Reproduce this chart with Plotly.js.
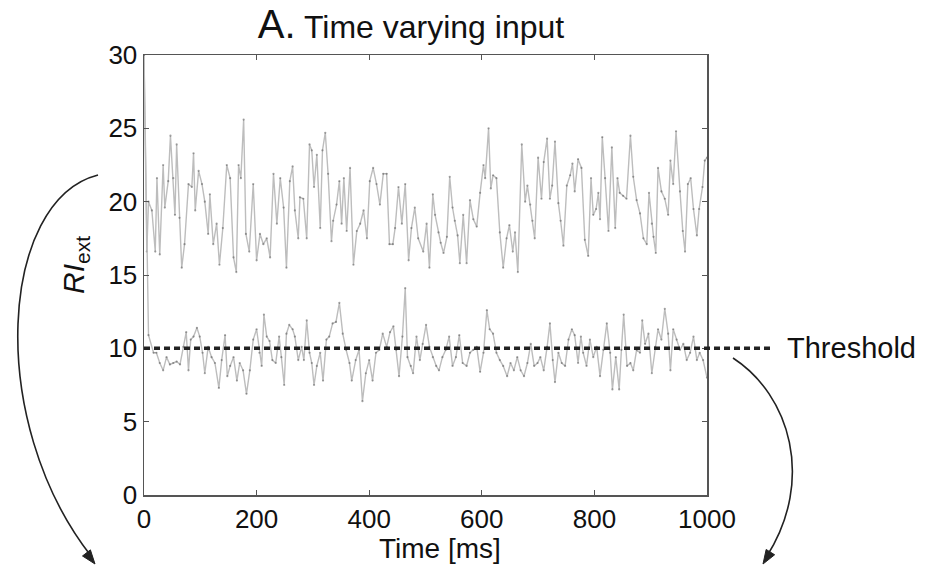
<!DOCTYPE html>
<html>
<head>
<meta charset="utf-8">
<script src="https://cdn.plot.ly/plotly-3.0.1.min.js"></script>
<style>html,body{margin:0;padding:0;background:#fff;}#chart{width:925px;height:568px;}</style>
</head>
<body>
<div id="chart"></div>
<script>
// ---- data ----
const upperT = [0,5,8,14,20,23,28,34,37,43,
47,52,55,58,63,67,72,79,85,88,
91,97,103,108,114,117,123,129,134,140,
147,153,159,164,168,172,177,181,187,194,
200,206,212,218,224,230,236,242,248,253,
259,264,268,274,277,283,289,294,298,302,
307,313,317,322,327,333,336,342,347,351,
355,360,366,372,378,384,390,396,401,407,
413,419,425,431,436,442,446,452,458,464,
470,475,481,487,496,502,507,513,517,523,
527,532,538,543,548,552,557,561,567,573,
579,585,591,597,603,606,612,616,620,626,
632,638,644,649,655,659,664,671,677,681,
686,690,694,700,706,710,716,721,725,730,
736,740,745,751,757,761,765,771,777,783,
789,794,798,803,807,810,814,819,825,831,
837,841,845,851,857,864,869,875,881,887,
893,897,902,905,909,913,919,925,931,935,
940,945,952,957,961,966,971,976,982,986,
992,996,1000];
const upperV = [30,16.6,20.0,19.4,16.6,21.6,16.4,22.5,19.6,21.4,
24.5,21.6,19.1,23.9,18.9,15.5,17.1,21.2,21.0,23.3,
19.4,22.1,21.2,20.0,17.8,20.5,17.1,18.5,15.7,18.2,
22.5,21.6,16.2,15.2,22.5,21.6,25.6,17.8,16.6,21.2,
16.0,17.8,17.1,17.5,16.2,21.9,18.5,21.6,19.6,15.5,
21.4,22.4,19.4,17.5,20.3,20.2,17.5,23.9,23.5,21.0,
23.2,18.2,23.5,24.7,21.9,17.3,18.7,19.8,21.4,18.5,
21.6,18.0,22.3,15.7,18.0,18.5,19.4,17.5,21.4,22.3,
21.2,19.8,21.9,21.9,17.1,17.1,18.2,21.0,18.5,21.2,
16.0,18.2,19.6,17.5,16.6,18.5,15.5,20.5,19.1,17.9,
17.2,16.5,17.6,21.7,19.6,18.7,17.7,15.8,19.1,15.8,
20.1,18.8,18.3,20.6,22.5,21.6,25.0,20.9,21.8,21.6,
17.9,15.5,17.5,18.4,16.6,17.9,15.2,23.9,20.0,21.1,
19.8,18.7,17.5,23.0,20.2,22.7,24.3,20.2,21.1,24.1,
19.9,18.7,17.0,21.1,21.8,22.6,20.7,22.9,22.3,17.4,
16.3,21.6,19.1,19.5,20.6,18.8,24.4,21.6,18.0,23.7,
18.2,21.6,20.6,20.4,20.2,24.5,21.7,20.1,19.2,17.5,
17.1,20.6,18.5,17.6,16.5,22.3,20.7,20.2,19.1,22.8,
21.2,24.8,20.7,18.0,16.6,21.2,21.6,19.5,17.7,19.5,
21.0,22.8,23.0];

const lowerT = [0,8,17,22,28,34,40,46,52,58,
64,70,75,79,83,88,94,99,104,108,
114,120,126,133,138,144,148,153,159,165,
170,176,182,188,194,200,205,209,213,218,
223,228,234,240,244,249,253,258,264,268,
274,280,284,289,294,298,302,307,313,318,
324,329,335,341,347,353,359,365,369,376,
382,388,394,400,406,412,418,424,431,437,
443,448,453,459,464,468,474,478,484,490,
495,501,507,513,519,524,530,536,542,548,
554,560,566,573,579,585,591,597,603,609,
614,620,626,632,638,645,651,657,663,669,
675,681,687,693,699,704,710,716,721,726,
730,736,742,748,754,760,765,771,776,780,
786,792,798,804,810,816,822,828,832,838,
844,848,852,858,864,869,875,881,885,890,
896,902,908,913,919,925,931,935,940,946,
952,958,964,970,976,982,987,993,1000];
const lowerV = [30,10.9,9.7,9.7,9.0,8.5,9.4,8.9,9.0,9.1,
8.9,10.1,11.1,8.5,10.6,10.8,11.4,10.8,9.7,8.3,
10.1,9.4,9.0,7.3,9.2,10.9,8.1,8.8,9.4,7.8,
9.0,8.5,6.9,8.5,10.6,11.3,9.7,8.8,12.3,10.8,
10.5,9.2,9.0,10.8,9.4,7.5,11.0,11.6,11.3,10.8,
9.2,10.1,9.2,11.9,9.7,9.0,7.5,8.8,9.7,7.8,
10.6,10.8,11.7,11.8,13.1,11.0,9.9,9.0,7.8,9.2,
9.9,6.4,8.3,9.2,7.8,9.7,9.9,11.0,10.1,11.1,
11.5,9.9,8.1,10.8,14.1,9.4,8.8,8.3,10.8,9.2,
10.3,11.6,10.1,9.4,8.8,8.5,9.4,9.9,10.8,8.8,
9.4,10.9,9.0,8.8,9.7,9.9,10.1,8.4,9.7,12.6,
11.3,11.0,9.7,9.2,8.8,8.1,9.0,8.5,9.4,8.5,
8.1,9.0,10.3,8.8,9.0,9.4,8.5,10.1,11.7,9.2,
7.7,9.7,9.0,8.8,10.6,11.3,10.9,9.0,10.8,9.7,
8.8,10.6,9.4,10.1,8.1,9.9,11.7,9.7,7.2,9.4,
7.2,9.9,12.3,8.8,9.0,8.5,9.9,9.7,11.9,10.3,
11.0,8.3,10.1,11.3,10.6,12.7,11.0,8.5,11.3,10.6,
9.9,10.3,9.2,9.7,10.8,9.2,9.7,9.2,8.0];

const threshold = 10;
const xTicks = [0,200,400,600,800,1000];
const yTicks = [0,5,10,15,20,25,30];

// ---- layout helpers (decoration only) ----
const W = 925, H = 568;
const M = {l:144, r:218, t:55, b:73};
const PW = W - M.l - M.r, PH = H - M.t - M.b;
const px = x => (x - M.l) / PW;          // pixel -> paper x
const py = y => (H - M.b - y) / PH;      // pixel -> paper y
const FONT = 'Liberation Sans, Arial, Helvetica, sans-serif';

// arrowhead triangle (pixel tip + direction) -> paper path
function headPath(tx, ty, dx, dy, len, half) {
  const n = Math.hypot(dx, dy); dx /= n; dy /= n;
  const bx = tx - dx * len, by = ty - dy * len;
  const p1 = [bx - dy * half, by + dx * half];
  const p2 = [bx + dy * half, by - dx * half];
  return `M ${px(tx)},${py(ty)} L ${px(p1[0])},${py(p1[1])} L ${px(p2[0])},${py(p2[1])} Z`;
}

const traceStyle = {
  mode: 'lines+markers',
  line: {color: '#bdbdbd', width: 1.4},
  marker: {color: 'rgba(80,80,80,0.5)', size: 2.2},
  hoverinfo: 'skip', showlegend: false
};

const data = [
  Object.assign({x: upperT, y: upperV, type: 'scatter'}, traceStyle),
  Object.assign({x: lowerT, y: lowerV, type: 'scatter'}, traceStyle)
];

const leftArrow = `M ${px(98)},${py(175)} C ${px(0)},${py(200)} ${px(-15)},${py(420)} ${px(91)},${py(556)}`;
const rightArrow = `M ${px(733)},${py(358)} C ${px(790)},${py(395)} ${px(815)},${py(480)} ${px(767)},${py(556)}`;

const axisCommon = {
  showline: true, mirror: 'ticks', linecolor: '#555', linewidth: 1.5,
  ticks: 'inside', ticklen: 5, tickcolor: '#555', tickwidth: 1,
  showgrid: false, zeroline: false,
  tickfont: {family: FONT, size: 26, color: '#111'}
};

const layout = {
  width: W, height: H,
  margin: M,
  paper_bgcolor: '#fff', plot_bgcolor: '#fff',
  title: {
    text: '<span style="font-size:40px">A.</span> Time varying input',
    font: {family: FONT, size: 32, color: '#111'},
    xref: 'paper', x: px(411), xanchor: 'center',
    yref: 'container', y: 1 - 27 / H, yanchor: 'middle'
  },
  xaxis: Object.assign({}, axisCommon, {range: [0, 1000], tickvals: xTicks, ticktext: xTicks.map(String)}),
  yaxis: Object.assign({}, axisCommon, {range: [0, 30], tickvals: yTicks, ticktext: yTicks.map(String)}),
  shapes: [
    {type: 'line', xref: 'paper', yref: 'y', x0: 0, x1: px(770), y0: threshold, y1: threshold,
     line: {color: '#222', width: 3.5, dash: '6px,4px'}, layer: 'above'},
    {type: 'path', xref: 'paper', yref: 'paper', path: leftArrow, line: {color: '#222', width: 1.6}},
    {type: 'path', xref: 'paper', yref: 'paper', path: rightArrow, line: {color: '#222', width: 1.6}},
    {type: 'path', xref: 'paper', yref: 'paper', path: headPath(95, 564, 0.61, 0.79, 14, 5),
     fillcolor: '#222', line: {color: '#222', width: 1}},
    {type: 'path', xref: 'paper', yref: 'paper', path: headPath(763, 564, -0.53, 0.85, 14, 5),
     fillcolor: '#222', line: {color: '#222', width: 1}}
  ],
  annotations: [
    {xref: 'paper', yref: 'y', x: px(785), y: threshold, xanchor: 'left', yanchor: 'middle',
     text: 'Threshold', showarrow: false, font: {family: FONT, size: 29, color: '#111'}},
    {xref: 'paper', yref: 'paper', x: px(440), y: py(548), xanchor: 'center', yanchor: 'middle',
     text: 'Time [ms]', showarrow: false, font: {family: FONT, size: 28, color: '#111'}},
    {xref: 'paper', yref: 'paper', x: px(75), y: py(265), xanchor: 'center', yanchor: 'middle',
     text: '<i>RI</i><sub>ext</sub>', textangle: -90, showarrow: false,
     font: {family: FONT, size: 30, color: '#111'}}
  ]
};

Plotly.newPlot('chart', data, layout, {displayModeBar: false, staticPlot: true});
</script>
</body>
</html>
